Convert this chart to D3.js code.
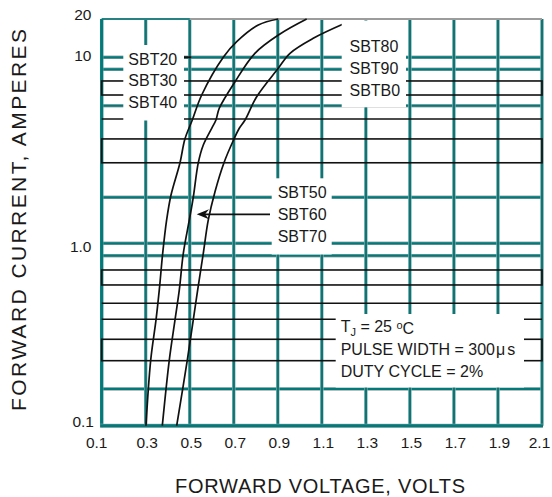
<!DOCTYPE html>
<html>
<head>
<meta charset="utf-8">
<script src="https://cdn.jsdelivr.net/npm/d3@7/dist/d3.min.js"></script>
<style>
  html, body { margin: 0; padding: 0; background: #fff; }
  svg { display: block; font-family: "Liberation Sans", Arial, sans-serif; }
</style>
</head>
<body>
<svg id="chart" width="552" height="497"></svg>
<script>
// ---------------- DATA ----------------
const xTicks = [0.1, 0.3, 0.5, 0.7, 0.9, 1.1, 1.3, 1.5, 1.7, 1.9, 2.1];
const xTickLabels = ["0.1", "0.3", "0.5", "0.7", "0.9", "1.1", "1.3", "1.5", "1.7", "1.9", "2.1"];
const yTicks = [0.1, 1, 10, 20];
const yTickLabels = ["0.1", "1.0", "10", "20"];

// horizontal grid lines (amperes)
const tealGridY = [0.1, 0.159, 0.855, 1, 1.767, 5.49, 8.62, 10];
const blackGridY = [0.383, 0.469, 4.66];
const blackBoxPairs = [[0.2272, 0.2977], [0.591, 0.714], [2.71, 3.64], [6.27, 7.46]];

// curves: forward voltage (V) vs forward current (A)
const curve1V = [0.301, 0.3226, 0.3467, 0.3616, 0.377, 0.395, 0.4148, 0.4557, 0.478, 0.5115, 0.5542, 0.6523, 0.7132, 0.8113, 0.902];
const curve1I = [0.1, 0.229, 0.380, 0.555, 0.881, 1.335, 1.818, 2.713, 3.637, 4.60, 6.27, 10.0, 13.26, 17.94, 20];
const curve2V = [0.3753, 0.407, 0.433, 0.4525, 0.4707, 0.498, 0.516, 0.5388, 0.5615, 0.5997, 0.619, 0.634, 0.7055, 0.796, 0.9099, 1.031];
const curve2I = [0.1, 0.229, 0.380, 0.555, 0.881, 1.335, 1.767, 2.713, 3.377, 4.152, 4.60, 5.32, 7.39, 10.75, 15.25, 20];
const curve3V = [0.4407, 0.4888, 0.516, 0.536, 0.5615, 0.5842, 0.6146, 0.6555, 0.701, 0.725, 0.751, 0.804, 0.902, 0.9553, 1.061, 1.205];
const curve3I = [0.1, 0.229, 0.380, 0.555, 0.881, 1.335, 1.894, 2.713, 3.637, 4.152, 4.60, 6.14, 8.73, 10.75, 14.1, 18.5];

const labelsA = ["SBT20", "SBT30", "SBT40"];
const labelsB = ["SBT80", "SBT90", "SBTB0"];
const labelsC = ["SBT50", "SBT60", "SBT70"];

// ---------------- DRAW ----------------
const svg = d3.select("#chart");
const TEAL = "#007b7b";
const HALO = "#a6a6a6";
const INK = "#111";

const x = d3.scaleLinear().domain([0.1, 2.1]).range([101.7, 542]);
const y = d3.scaleLog().domain([0.1, 1, 10, 20]).range([425.7, 243.3, 57.3, 19]);
const X0 = x(0.1), X1 = x(2.1), Y0 = y(0.1), Y1 = y(20);

const grid = svg.append("g");
// teal horizontal lines with halo
tealGridY.forEach(v => {
  grid.append("line").attr("x1", X0).attr("x2", X1).attr("y1", y(v)).attr("y2", y(v))
    .attr("stroke", HALO).attr("stroke-width", 3.4);
  grid.append("line").attr("x1", X0).attr("x2", X1).attr("y1", y(v)).attr("y2", y(v))
    .attr("stroke", TEAL).attr("stroke-width", 2.2);
});
// teal vertical lines with halo
xTicks.forEach(v => {
  grid.append("line").attr("x1", x(v)).attr("x2", x(v)).attr("y1", Y0).attr("y2", Y1)
    .attr("stroke", HALO).attr("stroke-width", 3.4);
  grid.append("line").attr("x1", x(v)).attr("x2", x(v)).attr("y1", Y0).attr("y2", Y1)
    .attr("stroke", TEAL).attr("stroke-width", 2.3);
});
// top border (gray, teal at the left part)
grid.append("line").attr("x1", X0).attr("x2", X1).attr("y1", Y1).attr("y2", Y1)
  .attr("stroke", "#9c9c9c").attr("stroke-width", 2);
grid.append("line").attr("x1", X0).attr("x2", x(0.5)).attr("y1", Y1).attr("y2", Y1)
  .attr("stroke", TEAL).attr("stroke-width", 1.6);
// left & bottom axes (thicker teal)
grid.append("line").attr("x1", X0).attr("x2", X0).attr("y1", Y0 + 1.5).attr("y2", Y1)
  .attr("stroke", TEAL).attr("stroke-width", 3);
grid.append("line").attr("x1", X0 - 1.5).attr("x2", X1 + 1).attr("y1", Y0).attr("y2", Y0)
  .attr("stroke", HALO).attr("stroke-width", 4);
grid.append("line").attr("x1", X0 - 1.5).attr("x2", X1 + 1).attr("y1", Y0).attr("y2", Y0)
  .attr("stroke", TEAL).attr("stroke-width", 3);

// black lines
const blk = svg.append("g").attr("stroke", INK).attr("stroke-width", 1.6).attr("fill", "none");
blackGridY.forEach(v => {
  blk.append("line").attr("x1", X0).attr("x2", X1).attr("y1", y(v)).attr("y2", y(v));
});
blackBoxPairs.forEach(p => {
  blk.append("rect").attr("x", X0).attr("y", y(p[1]))
    .attr("width", X1 - X0).attr("height", y(p[0]) - y(p[1]));
});

// curves
const line = d3.line().x(d => x(d[0])).y(d => y(d[1])).curve(d3.curveCatmullRom.alpha(0.5));
[[curve1V, curve1I], [curve2V, curve2I], [curve3V, curve3I]].forEach(([vs, is]) => {
  svg.append("path").datum(vs.map((v, i) => [v, is[i]]))
    .attr("d", line).attr("fill", "none").attr("stroke", INK).attr("stroke-width", 1.7);
});

// annotation boxes
function labelBox(bx, by, bw, bh, lines, tx, ty0, dy) {
  svg.append("rect").attr("x", bx).attr("y", by).attr("width", bw).attr("height", bh).attr("fill", "#fff");
  lines.forEach((t, i) => {
    svg.append("text").attr("x", tx).attr("y", ty0 + i * dy).attr("dy", "0.35em")
      .attr("font-size", 16).attr("fill", "#1a1a1a").text(t);
  });
}
labelBox(123.3, 45, 60.7, 75.5, labelsA, 128.3, 59.5, 21.2);
labelBox(341.7, 20.5, 64.3, 86.8, labelsB, 349.5, 46.7, 21.7);
labelBox(271.7, 178.3, 60, 76.2, labelsC, 277.7, 192.7, 22);

// leader dash right of the SBT20 label
svg.append("line").attr("x1", 184).attr("x2", 191.5).attr("y1", y(10)).attr("y2", y(10))
  .attr("stroke", INK).attr("stroke-width", 2);

// test-condition box
svg.append("rect").attr("x", 335.7).attr("y", 314).attr("width", 188.3).attr("height", 73.5).attr("fill", "#fff");
const t1 = svg.append("text").attr("x", 340.7).attr("y", 326.7).attr("dy", "0.35em")
  .attr("font-size", 16).attr("fill", "#1a1a1a");
t1.append("tspan").text("T");
t1.append("tspan").attr("font-size", 11).attr("dy", "0.3em").text("J");
t1.append("tspan").attr("dy", "-0.2em").text(" = 25 ");
t1.append("tspan").attr("font-size", 11).attr("dy", "-0.35em").text("o");
t1.append("tspan").attr("dy", "0.35em").text("C");
const t2 = svg.append("text").attr("x", 340.7).attr("y", 349.3).attr("dy", "0.35em")
  .attr("font-size", 16).attr("fill", "#1a1a1a");
t2.append("tspan").text("PULSE WIDTH = 300");
t2.append("tspan").attr("dx", 1).text("\u03bc");
t2.append("tspan").attr("dx", 2).text("s");
svg.append("text").attr("x", 340.7).attr("y", 371).attr("dy", "0.35em")
  .attr("font-size", 16).attr("fill", "#1a1a1a").text("DUTY CYCLE = 2%");

// arrow pointing to the SBT50/60/70 curve
const ay = 214.3;
svg.append("line").attr("x1", 270).attr("x2", 204).attr("y1", ay).attr("y2", ay)
  .attr("stroke", INK).attr("stroke-width", 1.7);
svg.append("path")
  .attr("d", `M196.7,${ay} L209,${ay - 5} L205,${ay} L209,${ay + 5} Z`)
  .attr("fill", INK);

// tick labels
const tl = svg.append("g").attr("font-size", 15.5).attr("fill", "#1a1a1a");
const xOff = [-5, 1.5, 1.5, 1.5, 1.5, 1.5, 1.5, 1.5, 1.5, 1.5, -2.5];
xTicks.forEach((v, i) => {
  tl.append("text").attr("x", x(v) + xOff[i]).attr("y", 443).attr("dy", "0.35em")
    .attr("text-anchor", "middle").text(xTickLabels[i]);
});
const yOff = [-4, 3, -2, -4];
yTicks.forEach((v, i) => {
  tl.append("text").attr("x", 91.5 + (i === 0 ? 2.5 : 0)).attr("y", y(v) + yOff[i]).attr("dy", "0.35em")
    .attr("text-anchor", "end").text(yTickLabels[i]);
});

// axis titles
svg.append("text").attr("x", 320).attr("y", 486).attr("dy", "0.35em").attr("text-anchor", "middle")
  .attr("font-size", 20).attr("fill", "#1a1a1a")
  .attr("textLength", 290).attr("lengthAdjust", "spacing")
  .text("FORWARD VOLTAGE, VOLTS");
svg.append("text").attr("transform", "translate(19,220) rotate(-90)").attr("dy", "0.35em")
  .attr("text-anchor", "middle").attr("font-size", 21).attr("fill", "#1a1a1a")
  .attr("textLength", 382).attr("lengthAdjust", "spacing")
  .text("FORWARD CURRENT, AMPERES");
</script>
</body>
</html>
